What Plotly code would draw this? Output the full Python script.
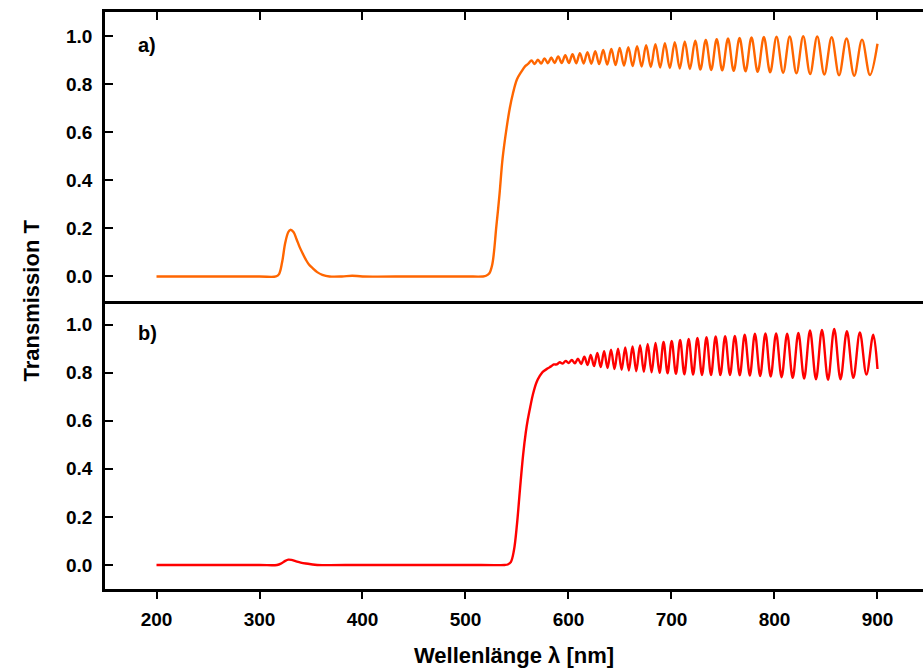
import plotly.graph_objects as go

# ---------------- data ----------------
# panel a) orange: baseline, UV bump, absorption edge
a_base_wl = [200, 250, 300, 316, 319, 322, 325, 328, 330, 333, 336, 339, 342, 345, 348, 352, 356, 361, 368,
             380, 390, 400, 450, 500, 517, 520, 523, 526, 530, 533, 536, 540, 543, 546, 550, 554, 558, 561]
a_base_T = [0.0, 0.0, 0.0, 0.0, 0.01, 0.06, 0.14, 0.185, 0.194, 0.185, 0.155, 0.122, 0.095, 0.07, 0.05, 0.033,
            0.018, 0.007, 0.0, 0.0, 0.003, 0.0, 0.0, 0.0, 0.0, 0.003, 0.012, 0.05, 0.21, 0.34, 0.49, 0.62, 0.70,
            0.76, 0.82, 0.85, 0.875, 0.885]
# panel a) interference fringes: maxima and minima
a_peak_wl = [564.1, 570.3, 576.7, 583.3, 590.0, 596.9, 603.9, 611.1, 618.4, 626.0, 633.7, 641.6, 649.7, 658.1,
             666.6, 675.4, 684.4, 693.6, 703.2, 712.9, 723.0, 733.3, 743.9, 754.9, 766.1, 777.7, 789.7, 802.0,
             814.8, 827.9, 841.5, 855.5, 870.0, 885.0]
a_peak_T = [0.898, 0.902, 0.907, 0.911, 0.915, 0.920, 0.924, 0.929, 0.933, 0.937, 0.942, 0.946, 0.950, 0.954,
            0.958, 0.962, 0.966, 0.970, 0.974, 0.977, 0.981, 0.984, 0.987, 0.990, 0.992, 0.994, 0.996, 0.997,
            0.998, 0.999, 0.998, 0.995, 0.990, 0.985]
a_valley_wl = [567.2, 573.5, 580.0, 586.6, 593.4, 600.4, 607.5, 614.7, 622.2, 629.8, 637.6, 645.7, 653.9, 662.3,
               671.0, 679.9, 689.0, 698.4, 708.0, 717.9, 728.1, 738.6, 749.3, 760.4, 771.9, 783.7, 795.8, 808.4,
               821.3, 834.6, 848.4, 862.7, 877.4, 892.7]
a_valley_T = [0.884, 0.886, 0.887, 0.888, 0.888, 0.888, 0.887, 0.886, 0.885, 0.883, 0.881, 0.879, 0.877, 0.875,
              0.873, 0.871, 0.869, 0.867, 0.865, 0.863, 0.861, 0.859, 0.857, 0.855, 0.853, 0.851, 0.849, 0.847,
              0.845, 0.842, 0.840, 0.837, 0.835, 0.838]
a_end_wl = [900]
a_end_T = [0.968]

# panel b) red
b_base_wl = [200, 250, 300, 317, 321, 325, 328, 331, 335, 340, 345, 350, 356, 400, 450, 500, 538, 541, 544, 547,
             550, 553, 556, 558.5, 560.5, 563, 565.5, 569, 572, 575, 580, 583]
b_base_T = [0.0, 0.0, 0.0, 0.0, 0.006, 0.017, 0.022, 0.021, 0.016, 0.010, 0.006, 0.003, 0.0, 0.0, 0.0, 0.0, 0.0,
            0.002, 0.012, 0.06, 0.17, 0.32, 0.46, 0.55, 0.605, 0.66, 0.71, 0.76, 0.785, 0.803, 0.818, 0.826]
b_peak_wl = [585.8, 591.5, 597.3, 603.2, 609.2, 615.4, 621.6, 628.0, 634.6, 641.3, 648.1, 655.1, 662.2, 669.5,
             676.9, 684.5, 692.3, 700.2, 708.4, 716.7, 725.2, 734.0, 742.9, 752.1, 761.5, 771.1, 781.0, 791.2,
             801.6, 812.3, 823.2, 834.5, 846.1, 858.0, 870.3, 882.9, 895.9]
b_peak_T = [0.834, 0.843, 0.849, 0.853, 0.858, 0.866, 0.874, 0.882, 0.889, 0.895, 0.900, 0.905, 0.909, 0.914,
            0.919, 0.923, 0.928, 0.932, 0.936, 0.940, 0.944, 0.947, 0.950, 0.952, 0.953, 0.958, 0.962, 0.963,
            0.963, 0.962, 0.965, 0.975, 0.978, 0.982, 0.972, 0.967, 0.958]
b_valley_wl = [588.6, 594.3, 600.2, 606.2, 612.3, 618.5, 624.8, 631.3, 637.9, 644.7, 651.6, 658.6, 665.8, 673.2,
               680.7, 688.4, 696.2, 704.3, 712.5, 721.0, 729.6, 738.4, 747.5, 756.8, 766.3, 776.1, 786.1, 796.3,
               806.9, 817.7, 828.8, 840.3, 852.0, 864.1, 876.6, 889.3]
b_valley_T = [0.834, 0.838, 0.840, 0.839, 0.836, 0.832, 0.827, 0.823, 0.819, 0.815, 0.812, 0.809, 0.806, 0.803,
              0.801, 0.799, 0.797, 0.795, 0.793, 0.792, 0.790, 0.790, 0.790, 0.790, 0.789, 0.788, 0.786, 0.784,
              0.781, 0.778, 0.775, 0.772, 0.770, 0.772, 0.778, 0.792]
b_end_wl = [900]
b_end_T = [0.815]

x_ticks = [200, 300, 400, 500, 600, 700, 800, 900]
y_ticks = [0.0, 0.2, 0.4, 0.6, 0.8, 1.0]
panel_labels = ["a)", "b)"]
x_title = "Wellenlänge λ [nm]"
y_title = "Transmission T"


def merge(base_wl, base_T, pk_wl, pk_T, vl_wl, vl_T, end_wl, end_T):
    pts = list(zip(base_wl, base_T)) + list(zip(pk_wl, pk_T)) + list(zip(vl_wl, vl_T)) + list(zip(end_wl, end_T))
    pts.sort(key=lambda p: p[0])
    return [p[0] for p in pts], [p[1] for p in pts]


ax_x, ax_y = merge(a_base_wl, a_base_T, a_peak_wl, a_peak_T, a_valley_wl, a_valley_T, a_end_wl, a_end_T)
bx_x, bx_y = merge(b_base_wl, b_base_T, b_peak_wl, b_peak_T, b_valley_wl, b_valley_T, b_end_wl, b_end_T)

FONT = "Liberation Sans"
ORANGE = "#FF6600"
RED = "#FF0000"

fig = go.Figure()
fig.add_trace(go.Scatter(x=ax_x, y=ax_y, mode="lines", xaxis="x2", yaxis="y",
                         line=dict(color=ORANGE, width=2.4, shape="spline", smoothing=1.0),
                         showlegend=False, hoverinfo="x+y"))
fig.add_trace(go.Scatter(x=bx_x, y=bx_y, mode="lines", xaxis="x", yaxis="y2",
                         line=dict(color=RED, width=2.4, shape="spline", smoothing=1.0),
                         showlegend=False, hoverinfo="x+y"))

W, H = 923, 669
ML, MR, MT, MB = 105, 0, 12, 80
x_range = [150, 944.2]
y_range = [-0.1, 1.1]
tickfont = dict(family=FONT, size=19, color="black", weight="bold")
LW = 2.5

common_y = dict(range=y_range, tickvals=y_ticks, tickformat=".1f", ticks="inside", ticklen=8, tickwidth=2,
                tickcolor="black", showline=True, linecolor="black", linewidth=LW, showgrid=False,
                zeroline=False, tickfont=tickfont, ticklabelstandoff=6)
right_y = dict(range=y_range, tickvals=y_ticks, ticks="inside", ticklen=3, tickwidth=2, tickcolor="black",
               showline=False, showgrid=False, zeroline=False, showticklabels=False, side="right")

fig.update_layout(
    width=W, height=H,
    margin=dict(l=ML, r=MR, t=MT, b=MB),
    paper_bgcolor="white", plot_bgcolor="white",
    xaxis=dict(domain=[0, 1], anchor="y2", range=x_range, tickvals=x_ticks, ticks="outside", ticklen=7,
               tickwidth=2, tickcolor="black", showline=True, mirror=False, linecolor="black", linewidth=LW,
               showgrid=False, zeroline=False, tickfont=tickfont, ticklabelstandoff=4),
    xaxis2=dict(domain=[0, 1], anchor="y", matches="x", range=x_range, tickvals=x_ticks, side="top",
                ticks="inside", ticklen=8, tickwidth=2, tickcolor="black", showline=True, mirror=True,
                linecolor="black", linewidth=LW, showgrid=False, zeroline=False, showticklabels=False),
    yaxis=dict(domain=[0.5, 1], anchor="x2", **common_y),
    yaxis2=dict(domain=[0, 0.5], anchor="x", **common_y),
    yaxis3=dict(overlaying="y", anchor="x2", **right_y),
    yaxis4=dict(overlaying="y2", anchor="x", **right_y),
    font=dict(family=FONT, color="black"),
)

plot_h = H - MT - MB
plot_w = W - ML - MR
fig.add_annotation(text=panel_labels[0], xref="paper", yref="paper", x=(147 - ML) / plot_w,
                   y=1 - (45 - MT) / plot_h, showarrow=False, xanchor="center", yanchor="middle",
                   font=dict(family=FONT, size=20, color="black", weight="bold"))
fig.add_annotation(text=panel_labels[1], xref="paper", yref="paper", x=(147 - ML) / plot_w,
                   y=1 - (333 - MT) / plot_h, showarrow=False, xanchor="center", yanchor="middle",
                   font=dict(family=FONT, size=20, color="black", weight="bold"))
fig.add_annotation(text=y_title, xref="paper", yref="paper", x=(31 - ML) / plot_w, y=0.5,
                   textangle=-90, showarrow=False, xanchor="center", yanchor="middle",
                   font=dict(family=FONT, size=22, color="black", weight="bold"))
fig.add_annotation(text=x_title, xref="paper", yref="paper", x=0.5, y=-(655 - (H - MB)) / plot_h,
                   showarrow=False, xanchor="center", yanchor="middle",
                   font=dict(family=FONT, size=22, color="black", weight="bold"))

fig.write_html("out.html", config={"displayModeBar": False},
               post_script="document.body.style.margin='0';document.body.style.overflow='hidden';")
